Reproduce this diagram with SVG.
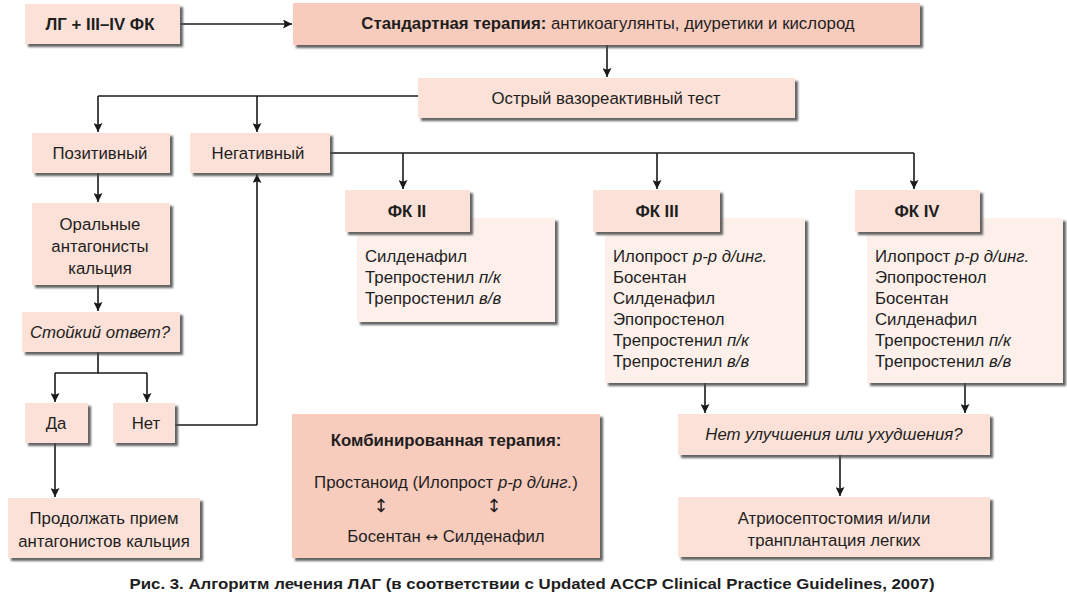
<svg xmlns="http://www.w3.org/2000/svg" width="1067" height="600" viewBox="0 0 1067 600">
<defs>
<filter id="sh" x="-5%" y="-10%" width="115%" height="130%">
<feDropShadow dx="3" dy="3" stdDeviation="1.2" flood-color="#4a4a4a" flood-opacity="0.85"/>
</filter>
<marker id="ah" viewBox="0 0 10 10" refX="10" refY="5" markerWidth="9" markerHeight="9" markerUnits="userSpaceOnUse" orient="auto">
<path d="M0,0 L10,5 L0,10 L2,5 z" fill="#1a1a1a"/>
</marker>
</defs>
<style>
.b{fill:#fbe1d7;filter:url(#sh)}
.d{fill:#f8ccbd;filter:url(#sh)}
.l{fill:#fdf0eb;filter:url(#sh)}
text{font-family:"Liberation Sans",Arial,sans-serif;font-size:16.8px;fill:#1e1e1e}
.c{text-anchor:middle}
.bo{font-weight:bold}
.i{font-style:italic}
.cn{stroke:#1a1a1a;stroke-width:1.6;fill:none}
.ar{marker-end:url(#ah)}
.sy{font-family:"DejaVu Sans",sans-serif}
</style>
<rect width="1067" height="600" fill="#ffffff"/>

<g id="connectors">
<path class="cn ar" d="M180,24 H292"/>
<path class="cn ar" d="M607,45 V77"/>
<path class="cn" d="M418,96 H98"/>
<path class="cn ar" d="M98,96 V132"/>
<path class="cn ar" d="M257,96 V132"/>
<path class="cn" d="M330,153 H914"/>
<path class="cn ar" d="M403,153 V189"/>
<path class="cn ar" d="M657,153 V189"/>
<path class="cn ar" d="M914,153 V189"/>
<path class="cn ar" d="M98,173 V202"/>
<path class="cn ar" d="M98,285 V311"/>
<path class="cn" d="M98,352 V373 M55,373 H147"/>
<path class="cn ar" d="M55,373 V402"/>
<path class="cn ar" d="M147,373 V402"/>
<path class="cn" d="M175,425 H257"/>
<path class="cn ar" d="M257,425 V174"/>
<path class="cn ar" d="M55,443 V497"/>
<path class="cn ar" d="M705,383 V413"/>
<path class="cn ar" d="M965,383 V413"/>
<path class="cn ar" d="M840,455 V496"/>
</g>

<g id="n-lg">
<rect class="b" x="25" y="4" width="155" height="40"/>
<text class="c bo" x="100" y="30">ЛГ + III–IV ФК</text>
</g>
<g id="n-standard">
<rect class="d" x="293" y="3" width="627" height="42"/>
<text class="c" x="608" y="29"><tspan class="bo">Стандартная терапия:</tspan> антикоагулянты, диуретики и кислород</text>
</g>
<g id="n-test">
<rect class="b" x="418" y="78" width="377" height="40"/>
<text class="c" x="606" y="104">Острый вазореактивный тест</text>
</g>
<g id="n-pos">
<rect class="b" x="32" y="133" width="138" height="40"/>
<text class="c" x="100" y="159">Позитивный</text>
</g>
<g id="n-neg">
<rect class="b" x="190" y="133" width="140" height="40"/>
<text class="c" x="258" y="159">Негативный</text>
</g>
<g id="n-oral">
<rect class="b" x="32" y="203" width="138" height="82"/>
<text class="c" x="100" y="230">Оральные</text>
<text class="c" x="100" y="252">антагонисты</text>
<text class="c" x="100" y="274">кальция</text>
</g>
<g id="n-resp">
<rect class="b" x="22" y="312" width="158" height="40"/>
<text class="c i" x="100" y="338">Стойкий ответ?</text>
</g>
<g id="n-yes">
<rect class="b" x="25" y="403" width="63" height="40"/>
<text class="c" x="56" y="429">Да</text>
</g>
<g id="n-no">
<rect class="b" x="113" y="403" width="62" height="40"/>
<text class="c" x="146" y="429">Нет</text>
</g>
<g id="n-continue">
<rect class="b" x="8" y="498" width="192" height="60"/>
<text class="c" x="104" y="524">Продолжать прием</text>
<text class="c" x="104" y="547">антагонистов кальция</text>
</g>

<g id="n-fk2">
<rect class="l" x="357" y="218" width="198" height="104"/>
<rect class="b" x="345" y="190" width="125" height="42"/>
<text class="c bo" x="407" y="217">ФК II</text>
<text x="365" y="262">Силденафил</text>
<text x="365" y="283">Трепростенил <tspan class="i">п/к</tspan></text>
<text x="365" y="304">Трепростенил <tspan class="i">в/в</tspan></text>
</g>
<g id="n-fk3">
<rect class="l" x="605" y="218" width="200" height="165"/>
<rect class="b" x="593" y="190" width="127" height="42"/>
<text class="c bo" x="657" y="217">ФК III</text>
<text x="613" y="262">Илопрост <tspan class="i">р-р д/инг.</tspan></text>
<text x="613" y="283">Босентан</text>
<text x="613" y="304">Силденафил</text>
<text x="613" y="325">Эпопростенол</text>
<text x="613" y="346">Трепростенил <tspan class="i">п/к</tspan></text>
<text x="613" y="367">Трепростенил <tspan class="i">в/в</tspan></text>
</g>
<g id="n-fk4">
<rect class="l" x="867" y="218" width="196" height="165"/>
<rect class="b" x="855" y="190" width="125" height="42"/>
<text class="c bo" x="917" y="217">ФК IV</text>
<text x="875" y="262">Илопрост <tspan class="i">р-р д/инг.</tspan></text>
<text x="875" y="283">Эпопростенол</text>
<text x="875" y="304">Босентан</text>
<text x="875" y="325">Силденафил</text>
<text x="875" y="346">Трепростенил <tspan class="i">п/к</tspan></text>
<text x="875" y="367">Трепростенил <tspan class="i">в/в</tspan></text>
</g>

<g id="n-combo">
<rect class="d" x="292" y="414" width="308" height="144"/>
<text class="c bo" x="446" y="446">Комбинированная терапия:</text>
<text class="c" x="446" y="488">Простаноид (Илопрост <tspan class="i">р-р д/инг.</tspan>)</text>
<text class="c sy" x="381" y="512" style="font-size:18px">↕</text>
<text class="c sy" x="494" y="512" style="font-size:18px">↕</text>
<text class="c" x="446" y="542">Босентан <tspan class="sy" style="font-size:15px">↔</tspan> Силденафил</text>
</g>

<g id="n-noimp">
<rect class="b" x="678" y="414" width="312" height="41"/>
<text class="c i" x="834" y="440">Нет улучшения или ухудшения?</text>
</g>
<g id="n-surgery">
<rect class="b" x="678" y="497" width="312" height="60"/>
<text class="c" x="834" y="524">Атриосептостомия и/или</text>
<text class="c" x="834" y="546">транплантация легких</text>
</g>

<text class="c bo" x="532" y="589" style="font-size:15px" textLength="805" lengthAdjust="spacingAndGlyphs">Рис. 3. Алгоритм лечения ЛАГ (в соответствии с Updated ACCP Clinical Practice Guidelines, 2007)</text>
</svg>
